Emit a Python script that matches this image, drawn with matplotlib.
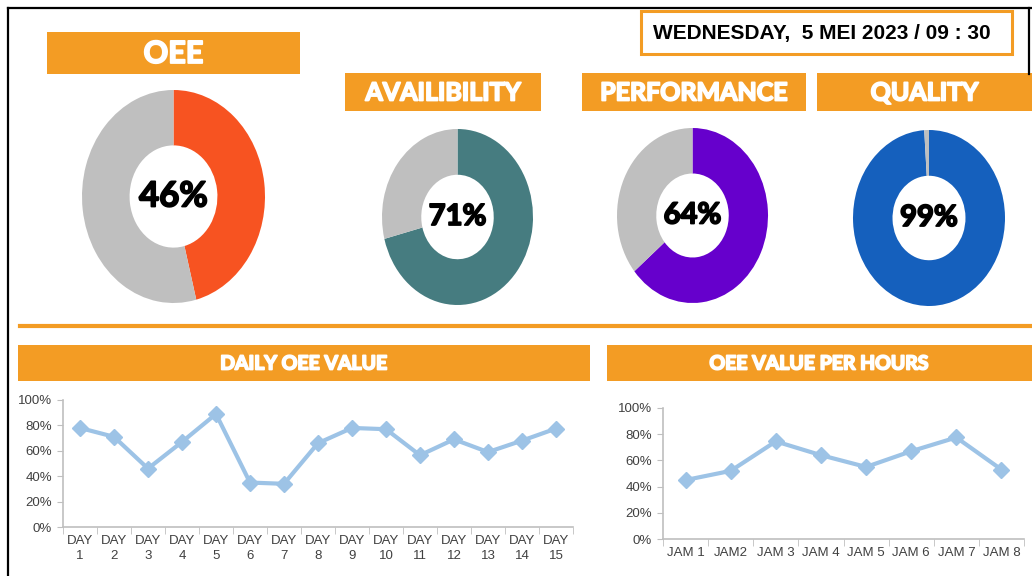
import numpy as np
import matplotlib
matplotlib.use('Agg')
import matplotlib.pyplot as plt
import matplotlib.patheffects as pe
from matplotlib.patches import Rectangle
from matplotlib.lines import Line2D
from matplotlib.ticker import PercentFormatter, FixedLocator


W, H = 1032, 576

# KPI donuts
kpi_names = ['OEE', 'AVAILIBILITY', 'PERFORMANCE', 'QUALITY']
kpi_values = [46, 71, 64, 99]
kpi_colors = ['#F75321', '#467C80', '#6600CC', '#1560BD']

date_text = 'WEDNESDAY,  5 MEI 2023 / 09 : 30'

# daily line chart
daily_labels = ['DAY\n%d' % i for i in range(1, 16)]
daily_oee = [0.78, 0.71, 0.46, 0.67, 0.89, 0.35, 0.34, 0.66, 0.78, 0.77, 0.565, 0.69, 0.59, 0.68, 0.775]

# hourly line chart
hour_labels = ['JAM 1', 'JAM2', 'JAM 3', 'JAM 4', 'JAM 5', 'JAM 6', 'JAM 7', 'JAM 8']
hour_oee = [0.45, 0.52, 0.745, 0.64, 0.55, 0.67, 0.775, 0.53]

ORANGE = '#F39C24'
GREY = '#BFBFBF'
LINE_BLUE = '#9DC3E6'
TXT = '#404040'


def px_axes(fig, x0, y0, x1, y1):
    # pixel box (top-left origin) -> figure axes
    return fig.add_axes([x0 / W, 1 - y1 / H, (x1 - x0) / W, (y1 - y0) / H])


fig = plt.figure(figsize=(W / 100, H / 100), dpi=100)
fig.patch.set_facecolor('white')

# overlay for boxes, headers and border
bg = fig.add_axes([0, 0, 1, 1])
bg.set_xlim(0, W)
bg.set_ylim(H, 0)
bg.axis('off')

bg.add_line(Line2D([8, W], [7.5, 7.5], color='black', lw=1.6))
bg.add_line(Line2D([8, 8], [7.5, H], color='black', lw=1.6))
bg.add_line(Line2D([1029, 1029], [7.5, 74], color='black', lw=1.6))

headers = [
    (47, 32, 300, 74, 'OEE', 22),
    (345, 73, 541, 111, 'AVAILIBILITY', 18),
    (582, 73, 806, 111, 'PERFORMANCE', 18),
    (817, 73, 1032, 111, 'QUALITY', 18),
    (18, 345, 590, 381, 'DAILY OEE VALUE', 14),
    (607, 345, 1032, 381, 'OEE VALUE PER HOURS', 14),
]
# thicker strokes to get close to the heavy display font
heavy_white = [pe.withStroke(linewidth=1.3, foreground='white')]
heavy_black = [pe.withStroke(linewidth=1.3, foreground='black')]
for x0, y0, x1, y1, txt, fs in headers:
    bg.add_patch(Rectangle((x0, y0), x1 - x0, y1 - y0, facecolor=ORANGE, edgecolor='none'))
    bg.text((x0 + x1) / 2, (y0 + y1) / 2 + 1, txt, color='white', fontsize=fs,
            fontfamily='Lato', fontweight='bold', ha='center', va='center',
            path_effects=heavy_white)

# date box
bg.add_patch(Rectangle((641, 11), 371, 43, facecolor='white', edgecolor=ORANGE, lw=2.2))
bg.text(822, 33, date_text, fontsize=15, fontfamily='Liberation Sans', fontweight='bold',
        ha='center', va='center', color='black')

# separator line
bg.add_line(Line2D([20, W], [325.5, 325.5], color=ORANGE, lw=3))

# donuts (elliptical, like the stretched Excel shapes)
donut_boxes = [(82, 90, 265, 303), (382, 129, 533, 305), (617, 128, 768, 303), (853, 130, 1005, 306)]
value_fs = [25, 21, 21, 21]
for box, val, col, fs in zip(donut_boxes, kpi_values, kpi_colors, value_fs):
    ax = px_axes(fig, *box)
    ax.pie([val, 100 - val], colors=[col, GREY], startangle=90, counterclock=False,
           radius=1, wedgeprops=dict(width=0.52, edgecolor='none'))
    ax.set_aspect('auto')
    ax.set_xlim(-1, 1)
    ax.set_ylim(-1, 1)
    ax.axis('off')
    ax.text(0, 0, '%d%%' % val, fontsize=fs, fontfamily='Lato', fontweight='bold',
            ha='center', va='center', color='black', path_effects=heavy_black)


def line_chart(ax, labels, values):
    n = len(values)
    x = np.arange(n)
    ax.plot(x, values, color=LINE_BLUE, lw=3, marker='D', markersize=8,
            markerfacecolor=LINE_BLUE, markeredgecolor=LINE_BLUE, zorder=3)
    ax.set_xlim(-0.5, n - 0.5)
    ax.set_ylim(0, 1)
    ax.set_yticks(np.linspace(0, 1, 6))
    ax.yaxis.set_major_formatter(PercentFormatter(1.0, decimals=0))
    ax.set_xticks(x)
    ax.set_xticklabels(labels)
    ax.xaxis.set_minor_locator(FixedLocator(np.arange(-0.5, n, 1.0)))
    ax.tick_params(axis='x', which='major', length=0, pad=6, labelsize=9.5, labelcolor=TXT)
    ax.tick_params(axis='x', which='minor', length=5, color=GREY, direction='out')
    ax.tick_params(axis='y', length=4, color=GREY, labelsize=9.5, labelcolor=TXT, pad=4)
    for s in ['top', 'right']:
        ax.spines[s].set_visible(False)
    for s in ['left', 'bottom']:
        ax.spines[s].set_color(GREY)
        ax.spines[s].set_linewidth(1.2)
    for lab in ax.get_xticklabels() + ax.get_yticklabels():
        lab.set_fontfamily('Liberation Sans')


ax1 = px_axes(fig, 63, 400, 573, 527)
line_chart(ax1, daily_labels, daily_oee)
for lab in ax1.get_xticklabels():
    lab.set_linespacing(1.3)

ax2 = px_axes(fig, 663, 408, 1024, 539)
line_chart(ax2, hour_labels, hour_oee)

fig.savefig('out.png', dpi=100, facecolor='white')
